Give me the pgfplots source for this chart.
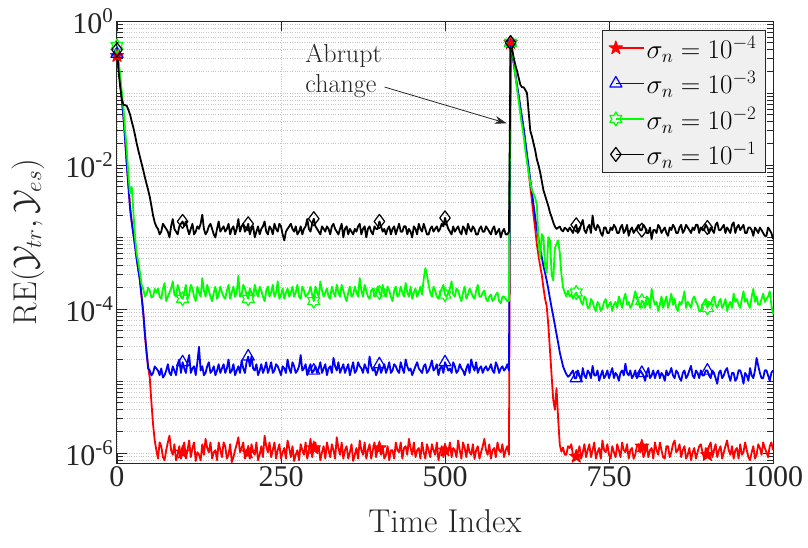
\RequirePackage{fix-cm}
\documentclass[border=0pt]{standalone}
\usepackage{fontspec}
\usepackage{pgfplots}
\usepackage{pgfplotstable}
\pgfplotsset{compat=1.18}
\usetikzlibrary{arrows.meta}
\newfontfamily\timesf{Liberation Serif}
\pgfdeclareplotmark{pentagram}{%
 \pgfpathmoveto{\pgfpointpolar{90}{\pgfplotmarksize}}%
 \pgfpathlineto{\pgfpointpolar{126}{0.382*\pgfplotmarksize}}%
 \pgfpathlineto{\pgfpointpolar{162}{\pgfplotmarksize}}%
 \pgfpathlineto{\pgfpointpolar{198}{0.382*\pgfplotmarksize}}%
 \pgfpathlineto{\pgfpointpolar{234}{\pgfplotmarksize}}%
 \pgfpathlineto{\pgfpointpolar{270}{0.382*\pgfplotmarksize}}%
 \pgfpathlineto{\pgfpointpolar{306}{\pgfplotmarksize}}%
 \pgfpathlineto{\pgfpointpolar{342}{0.382*\pgfplotmarksize}}%
 \pgfpathlineto{\pgfpointpolar{18}{\pgfplotmarksize}}%
 \pgfpathlineto{\pgfpointpolar{54}{0.382*\pgfplotmarksize}}%
 \pgfpathclose\pgfusepathqfillstroke}
\pgfdeclareplotmark{hexagram}{%
 \pgfpathmoveto{\pgfpointpolar{90}{\pgfplotmarksize}}%
 \pgfpathlineto{\pgfpointpolar{120}{0.577*\pgfplotmarksize}}%
 \pgfpathlineto{\pgfpointpolar{150}{\pgfplotmarksize}}%
 \pgfpathlineto{\pgfpointpolar{180}{0.577*\pgfplotmarksize}}%
 \pgfpathlineto{\pgfpointpolar{210}{\pgfplotmarksize}}%
 \pgfpathlineto{\pgfpointpolar{240}{0.577*\pgfplotmarksize}}%
 \pgfpathlineto{\pgfpointpolar{270}{\pgfplotmarksize}}%
 \pgfpathlineto{\pgfpointpolar{300}{0.577*\pgfplotmarksize}}%
 \pgfpathlineto{\pgfpointpolar{330}{\pgfplotmarksize}}%
 \pgfpathlineto{\pgfpointpolar{0}{0.577*\pgfplotmarksize}}%
 \pgfpathlineto{\pgfpointpolar{30}{\pgfplotmarksize}}%
 \pgfpathlineto{\pgfpointpolar{60}{0.577*\pgfplotmarksize}}%
 \pgfpathclose\pgfusepathqstroke}
\pgfplotstableread{
t r b g k
0 0.33 0.35 0.45 0.40
2.5 0.22 0.22 0.28 0.2
5 0.14 0.14 0.17 0.12
7.5 0.08 0.08 0.1 0.08
10 0.045 0.045 0.06 0.068
12.5 0.022 0.022 0.03 0.068
15 0.01 0.01 0.016 0.066
17.5 5e-3 5e-3 7e-3 0.058
20 2.5e-3 2.5e-3 4e-3 0.05
22.5 1.6e-3 1.6e-3 5e-3 0.04
25 1.1e-3 1.1e-3 2.2e-3 0.033
27.5 7.5e-4 7.5e-4 1e-3 0.026
30 5e-4 5e-4 6e-4 0.02
32.5 3.5e-4 3.5e-4 4.5e-4 0.016
35 2.5e-4 2.5e-4 3.2e-4 0.013
37.5 1.5e-4 1.5e-4 2.2e-4 0.0105
40 9e-5 9e-5 1.9e-4 0.0085
42.5 4.5e-5 4.6e-5 1.5e-4 0.0068
45 2.5e-5 2.6e-5 1.6e-4 0.0055
47.5 1.6e-5 1.5e-5 2.0e-4 0.0045
50 1.1e-5 1.4e-5 1.8e-4 0.0036
52.5 5e-6 1.2e-5 1.45e-4 0.0027
55 2.5e-6 1.3e-5 1.5e-4 0.002
57.5 1.5e-6 1.6e-5 1.9e-4 0.0016
60 1.1e-6 1.5e-5 1.7e-4 1.4e-3
62.5 0.84e-6 1.4e-5 1.93e-4 1.3e-3
65 1.41e-6 1.21e-5 1.49e-4 1.09e-3
67.5 1.25e-6 1.5e-5 1.39e-4 1.19e-3
70 0.88e-6 1.12e-5 1.93e-4 1.53e-3
72.5 0.8e-6 1.21e-5 2.3e-4 1.41e-3
75 1.1e-6 1.4e-5 1.29e-4 1.3e-3
77.5 1.41e-6 1.72e-5 1.49e-4 1.19e-3
80 1.75e-6 1.3e-5 1.7e-4 0.99e-3
82.5 1.1e-6 1.21e-5 1.93e-4 1.41e-3
85 0.95e-6 1.61e-5 2.43e-4 1.78e-3
87.5 1.33e-6 1.4e-5 1.59e-4 1.3e-3
90 0.8e-6 1.21e-5 1.49e-4 1.19e-3
92.5 0.95e-6 1.72e-5 2.17e-4 1.09e-3
95 1.25e-6 2.0e-5 1.81e-4 1.41e-3
97.5 0.84e-6 1.3e-5 1.49e-4 1.53e-3
100 1.03e-6 1.83e-5 1.39e-4 1.65e-3
102.5 1.41e-6 1.5e-5 1.7e-4 1.41e-3
105 0.84e-6 1.3e-5 2.17e-4 1.65e-3
107.5 1.1e-6 1.83e-5 1.39e-4 1.3e-3
110 1.5e-6 2.3e-5 1.59e-4 1.09e-3
112.5 0.88e-6 1.3e-5 2.17e-4 1.3e-3
115 1.18e-6 1.5e-5 1.93e-4 1.53e-3
117.5 1.41e-6 1.61e-5 1.49e-4 1.09e-3
120 0.78e-6 1.21e-5 1.29e-4 1.19e-3
122.5 1.03e-6 1.83e-5 2.05e-4 1.41e-3
125 0.95e-6 3.0e-5 1.7e-4 1.3e-3
127.5 0.8e-6 1.4e-5 1.49e-4 1.53e-3
130 1.33e-6 1.61e-5 2.7e-4 2.05e-3
132.5 0.95e-6 1.21e-5 1.81e-4 1.3e-3
135 1.58e-6 1.3e-5 1.49e-4 1.09e-3
137.5 1.18e-6 1.61e-5 2.17e-4 1.19e-3
140 1.03e-6 1.83e-5 1.81e-4 1.41e-3
142.5 1.41e-6 1.3e-5 1.49e-4 1.53e-3
145 0.84e-6 1.4e-5 1.29e-4 1.3e-3
147.5 1.03e-6 1.61e-5 1.7e-4 1.09e-3
150 1.1e-6 1.21e-5 2.05e-4 0.99e-3
152.5 0.8e-6 1.4e-5 1.39e-4 1.3e-3
155 1.41e-6 1.72e-5 1.59e-4 1.65e-3
157.5 1.1e-6 1.3e-5 2.05e-4 1.19e-3
160 0.88e-6 1.5e-5 1.7e-4 1.3e-3
162.5 1.41e-6 1.72e-5 1.49e-4 1.41e-3
165 1.25e-6 1.3e-5 1.39e-4 1.19e-3
167.5 0.84e-6 1.5e-5 1.81e-4 1.3e-3
170 0.95e-6 2.0e-5 2.17e-4 1.53e-3
172.5 1.33e-6 1.3e-5 1.39e-4 1.09e-3
175 0.75e-6 1.4e-5 1.7e-4 1.3e-3
177.5 0.88e-6 1.72e-5 2.05e-4 1.41e-3
180 1.1e-6 1.21e-5 1.49e-4 1.09e-3
182.5 1.33e-6 1.4e-5 1.7e-4 1.3e-3
185 1.66e-6 1.61e-5 2.9e-4 1.78e-3
187.5 1.03e-6 1.3e-5 1.49e-4 1.19e-3
190 1.18e-6 1.94e-5 1.59e-4 1.41e-3
192.5 1.41e-6 1.5e-5 2.17e-4 1.53e-3
195 0.84e-6 1.3e-5 1.93e-4 1.19e-3
197.5 1.1e-6 1.83e-5 1.59e-4 1.3e-3
200 1.03e-6 2.2e-5 1.39e-4 1.53e-3
202.5 0.84e-6 1.61e-5 1.93e-4 1.09e-3
205 1.33e-6 2.2e-5 1.7e-4 1.3e-3
207.5 1.03e-6 1.5e-5 1.49e-4 1.41e-3
210 0.95e-6 1.4e-5 2.17e-4 0.99e-3
212.5 1.41e-6 1.72e-5 1.7e-4 1.19e-3
215 0.8e-6 1.21e-5 1.49e-4 1.41e-3
217.5 0.95e-6 1.4e-5 2.05e-4 1.09e-3
220 1.25e-6 1.72e-5 1.81e-4 1.3e-3
222.5 0.88e-6 1.3e-5 1.49e-4 1.41e-3
225 1.75e-6 1.5e-5 1.29e-4 1.65e-3
227.5 1.25e-6 1.83e-5 1.81e-4 1.19e-3
230 1.03e-6 1.3e-5 2.05e-4 1.09e-3
232.5 1.41e-6 1.5e-5 1.49e-4 1.41e-3
235 0.88e-6 1.83e-5 1.7e-4 1.3e-3
237.5 1.1e-6 1.3e-5 2.17e-4 1.09e-3
240 1.41e-6 1.4e-5 1.49e-4 1.53e-3
242.5 0.84e-6 1.72e-5 1.7e-4 1.3e-3
245 1.1e-6 1.61e-5 2.43e-4 1.19e-3
247.5 1.33e-6 1.4e-5 1.39e-4 1.53e-3
250 0.84e-6 1.21e-5 1.59e-4 1.41e-3
252.5 1.03e-6 1.61e-5 1.93e-4 1.09e-3
255 1.18e-6 1.5e-5 1.39e-4 0.9e-3
257.5 0.84e-6 1.3e-5 1.7e-4 1.19e-3
260 1.5e-6 2.0e-5 1.93e-4 1.3e-3
262.5 1.18e-6 1.5e-5 1.49e-4 1.41e-3
265 0.88e-6 1.3e-5 1.7e-4 1.53e-3
267.5 1.25e-6 1.83e-5 2.05e-4 1.3e-3
270 0.78e-6 1.61e-5 1.49e-4 1.19e-3
272.5 0.95e-6 1.3e-5 1.7e-4 1.41e-3
275 1.1e-6 1.4e-5 2.17e-4 1.09e-3
277.5 0.8e-6 1.61e-5 1.49e-4 1.19e-3
280 1.33e-6 2.3e-5 1.39e-4 1.41e-3
282.5 1.1e-6 1.4e-5 2.05e-4 1.09e-3
285 0.95e-6 1.5e-5 1.81e-4 1.3e-3
287.5 1.41e-6 1.72e-5 1.49e-4 1.41e-3
290 0.84e-6 1.21e-5 1.59e-4 1.78e-3
292.5 1.1e-6 1.5e-5 1.7e-4 1.3e-3
295 1.58e-6 1.72e-5 2.05e-4 1.19e-3
297.5 0.88e-6 1.3e-5 1.59e-4 1.53e-3
300 1.18e-6 1.4e-5 1.29e-4 1.8e-3
302.5 1.41e-6 1.61e-5 2.05e-4 1.41e-3
305 1.03e-6 1.3e-5 1.7e-4 1.3e-3
307.5 1.25e-6 1.5e-5 1.49e-4 1.19e-3
310 0.8e-6 1.83e-5 2.43e-4 1.09e-3
312.5 1.03e-6 1.3e-5 1.81e-4 1.41e-3
315 1.25e-6 1.5e-5 1.49e-4 1.3e-3
317.5 0.84e-6 1.72e-5 1.7e-4 1.19e-3
320 1.41e-6 1.21e-5 1.93e-4 1.41e-3
322.5 1.1e-6 1.5e-5 1.49e-4 1.3e-3
325 0.88e-6 1.61e-5 1.39e-4 1.09e-3
327.5 1.33e-6 1.3e-5 2.05e-4 1.41e-3
330 1.1e-6 2.1e-5 1.7e-4 1.53e-3
332.5 0.84e-6 1.61e-5 1.49e-4 1.3e-3
335 1.66e-6 1.4e-5 2.17e-4 1.19e-3
337.5 1.18e-6 1.83e-5 1.7e-4 1.09e-3
340 0.95e-6 1.3e-5 1.49e-4 1.3e-3
342.5 1.41e-6 1.5e-5 2.17e-4 1.53e-3
345 0.84e-6 1.72e-5 1.81e-4 0.99e-3
347.5 1.1e-6 1.3e-5 1.49e-4 1.3e-3
350 1.25e-6 1.5e-5 1.29e-4 1.41e-3
352.5 0.84e-6 1.72e-5 1.7e-4 1.09e-3
355 1.03e-6 1.21e-5 2.05e-4 1.3e-3
357.5 1.33e-6 1.5e-5 1.49e-4 1.19e-3
360 0.78e-6 1.83e-5 1.59e-4 1.09e-3
362.5 0.95e-6 1.3e-5 2.05e-4 1.3e-3
365 1.18e-6 1.4e-5 1.7e-4 1.19e-3
367.5 0.84e-6 1.83e-5 1.49e-4 1.41e-3
370 1.5e-6 1.61e-5 2.7e-4 1.53e-3
372.5 1.1e-6 1.5e-5 1.81e-4 1.09e-3
375 0.95e-6 1.3e-5 1.49e-4 1.3e-3
377.5 1.41e-6 1.72e-5 2.17e-4 1.41e-3
380 0.84e-6 1.5e-5 1.81e-4 0.99e-3
382.5 1.1e-6 1.3e-5 1.49e-4 1.3e-3
385 1.33e-6 2.2e-5 1.39e-4 1.41e-3
387.5 0.84e-6 1.61e-5 1.81e-4 1.19e-3
390 1.1e-6 1.4e-5 1.93e-4 1.09e-3
392.5 1.41e-6 1.5e-5 1.49e-4 1.41e-3
395 0.88e-6 1.21e-5 1.59e-4 1.3e-3
397.5 1.18e-6 1.4e-5 2.05e-4 1.3e-3
400 1.18e-6 1.72e-5 1.7e-4 1.65e-3
402.5 0.95e-6 1.3e-5 1.49e-4 1.41e-3
405 1.25e-6 1.5e-5 2.17e-4 1.19e-3
407.5 0.84e-6 1.72e-5 1.7e-4 1.3e-3
410 0.95e-6 1.3e-5 1.49e-4 1.09e-3
412.5 1.25e-6 1.5e-5 2.05e-4 1.3e-3
415 0.8e-6 1.83e-5 1.81e-4 1.41e-3
417.5 1.1e-6 1.3e-5 1.49e-4 1.09e-3
420 1.1e-6 1.4e-5 1.29e-4 1.3e-3
422.5 0.84e-6 1.72e-5 1.81e-4 1.41e-3
425 1.41e-6 1.61e-5 2.05e-4 1.09e-3
427.5 1.1e-6 1.4e-5 1.49e-4 1.3e-3
430 1.03e-6 1.3e-5 1.59e-4 1.53e-3
432.5 1.41e-6 1.83e-5 2.05e-4 1.19e-3
435 0.84e-6 1.5e-5 1.7e-4 1.19e-3
437.5 1.18e-6 1.3e-5 1.49e-4 1.41e-3
440 1.25e-6 2.0e-5 2.3e-4 1.41e-3
442.5 0.95e-6 1.61e-5 1.7e-4 1.09e-3
445 1.58e-6 1.4e-5 1.49e-4 1.3e-3
447.5 1.18e-6 1.5e-5 2.05e-4 1.19e-3
450 0.95e-6 1.21e-5 1.39e-4 0.99e-3
452.5 1.41e-6 1.4e-5 1.7e-4 1.41e-3
455 0.88e-6 1.61e-5 1.93e-4 1.3e-3
457.5 1.1e-6 1.83e-5 1.49e-4 1.09e-3
460 1.18e-6 1.5e-5 1.7e-4 1.53e-3
462.5 0.84e-6 1.4e-5 2.05e-4 1.3e-3
465 1.41e-6 1.3e-5 1.59e-4 1.19e-3
467.5 1.03e-6 1.61e-5 2.6e-4 1.53e-3
470 0.84e-6 1.72e-5 3.7e-4 1.3e-3
472.5 1.33e-6 1.3e-5 3.0e-4 1.09e-3
475 1.1e-6 1.4e-5 2.17e-4 1.09e-3
477.5 0.88e-6 1.61e-5 1.7e-4 1.3e-3
480 1.33e-6 1.94e-5 1.49e-4 1.41e-3
482.5 1.1e-6 1.4e-5 2.05e-4 1.19e-3
485 0.95e-6 1.5e-5 1.81e-4 1.3e-3
487.5 1.41e-6 1.72e-5 1.49e-4 1.41e-3
490 0.8e-6 1.21e-5 1.39e-4 1.19e-3
492.5 1.03e-6 1.5e-5 1.7e-4 1.3e-3
495 1.25e-6 1.61e-5 1.93e-4 1.53e-3
497.5 0.88e-6 1.3e-5 2.17e-4 1.41e-3
500 1.1e-6 1.83e-5 1.59e-4 1.85e-3
502.5 1.18e-6 1.61e-5 1.49e-4 1.53e-3
505 1.03e-6 1.4e-5 1.7e-4 1.3e-3
507.5 1.41e-6 1.5e-5 1.93e-4 1.19e-3
510 0.88e-6 1.3e-5 2.43e-4 1.09e-3
512.5 1.18e-6 1.83e-5 1.59e-4 1.41e-3
515 1.1e-6 1.61e-5 1.49e-4 1.19e-3
517.5 0.88e-6 1.3e-5 1.93e-4 1.3e-3
520 1.5e-6 1.4e-5 1.81e-4 1.41e-3
522.5 1.1e-6 1.72e-5 1.49e-4 1.19e-3
525 0.84e-6 1.5e-5 1.29e-4 1.09e-3
527.5 1.41e-6 1.4e-5 1.7e-4 1.41e-3
530 1.18e-6 1.21e-5 2.05e-4 1.3e-3
532.5 0.88e-6 1.5e-5 1.39e-4 1.09e-3
535 1.33e-6 1.72e-5 1.59e-4 1.53e-3
537.5 1.03e-6 1.3e-5 1.93e-4 1.3e-3
540 0.95e-6 2.0e-5 1.7e-4 1.19e-3
542.5 1.33e-6 1.61e-5 1.49e-4 1.41e-3
545 0.83e-6 1.4e-5 1.39e-4 1.3e-3
547.5 1.1e-6 1.83e-5 1.81e-4 1.09e-3
550 1.25e-6 1.3e-5 2.17e-4 1.09e-3
552.5 0.84e-6 1.5e-5 1.49e-4 1.3e-3
555 1.03e-6 1.61e-5 1.49e-4 1.41e-3
557.5 1.25e-6 1.3e-5 1.7e-4 1.19e-3
560 1.58e-6 1.5e-5 1.81e-4 1.19e-3
562.5 1.1e-6 1.61e-5 1.39e-4 1.41e-3
565 0.95e-6 1.4e-5 1.29e-4 1.3e-3
567.5 1.33e-6 1.5e-5 1.49e-4 1.19e-3
570 0.84e-6 1.72e-5 1.59e-4 1.09e-3
572.5 1.1e-6 1.4e-5 1.29e-4 1.3e-3
575 1.18e-6 1.3e-5 1.39e-4 1.41e-3
577.5 0.88e-6 1.83e-5 1.59e-4 1.09e-3
580 1.41e-6 1.61e-5 1.7e-4 1.19e-3
582.5 1.1e-6 1.3e-5 1.29e-4 1.3e-3
585 1.03e-6 1.5e-5 1.2e-4 0.99e-3
587.5 1.33e-6 1.61e-5 1.49e-4 1.19e-3
590 0.88e-6 1.4e-5 1.49e-4 1.3e-3
592.5 1.1e-6 1.5e-5 1.39e-4 1.09e-3
595 1.25e-6 1.72e-5 1.29e-4 1.09e-3
597.5 0.95e-6 1.4e-5 1.29e-4 1.19e-3
600 0.5 0.5 0.5 0.5
602.5 0.36 0.36 0.38 0.4
605 0.25 0.25 0.27 0.3
607.5 0.17 0.18 0.17 0.24
610 0.12 0.125 0.11 0.2
612.5 0.085 0.09 0.075 0.16
615 0.06 0.063 0.05 0.13
617.5 0.042 0.045 0.035 0.12
620 0.03 0.032 0.025 0.12
622.5 0.02 0.021 0.016 0.11
625 0.013 0.014 0.011 0.1
627.5 8e-3 9.5e-3 8e-3 0.055
630 5e-3 6.3e-3 5.6e-3 0.03
632.5 3.2e-3 4.2e-3 4.5e-3 0.025
635 2e-3 2.8e-3 4e-3 0.02
637.5 1.3e-3 1.9e-3 3.5e-3 0.016
640 8e-4 1.3e-3 2.8e-3 0.012
642.5 5.5e-4 9.5e-4 9e-4 0.01
645 4e-4 7e-4 5e-4 8e-3
647.5 3e-4 5.3e-4 1.1e-3 6e-3
650 2e-4 4e-4 1e-3 4.5e-3
652.5 1.4e-4 3.2e-4 4e-4 3.8e-3
655 1.1e-4 2.5e-4 3.2e-4 3.2e-3
657.5 6e-5 1.9e-4 1e-3 2.7e-3
660 2.7e-5 1.4e-4 9e-4 2.2e-3
662.5 1.2e-5 1.05e-4 3e-4 1.9e-3
665 5.5e-6 8e-5 2.5e-4 1.6e-3
667.5 4e-6 6e-5 7e-4 1.4e-3
670 8e-6 4.5e-5 8e-4 1.3e-3
672.5 3e-6 3.4e-5 9e-4 1.35e-3
675 1.3e-6 2.5e-5 6e-4 1.4e-3
677.5 1.05e-6 2e-5 3e-4 1.25e-3
680 1.2e-6 1.6e-5 2e-4 1.2e-3
682.5 0.95e-6 1.4e-5 1.7e-4 1.35e-3
685 0.95e-6 1.25e-5 1.5e-4 1.3e-3
687.5 1.25e-6 1.15e-5 1.8e-4 1.2e-3
690 1.18e-6 1.2e-5 1.5e-4 1.36e-3
692.5 1.33e-6 1.3e-5 1.6e-4 1.25e-3
695 0.95e-6 1.41e-5 1.4e-4 1.14e-3
697.5 0.8e-6 1.1e-5 1.55e-4 1.36e-3
700 0.9e-6 1.1e-5 1.7e-4 1.48e-3
702.5 1.03e-6 1.41e-5 1.45e-4 1.14e-3
705 1.25e-6 1.2e-5 1.5e-4 1.25e-3
707.5 0.84e-6 1.01e-5 1.26e-4 1.48e-3
710 1.03e-6 1.52e-5 1.15e-4 1.73e-3
712.5 1.33e-6 1.2e-5 1.5e-4 1.25e-3
715 0.88e-6 1.1e-5 1.38e-4 1.14e-3
717.5 1.1e-6 1.41e-5 1.04e-4 1.36e-3
720 1.33e-6 1.3e-5 1.04e-4 1.48e-3
722.5 0.88e-6 1.1e-5 1.38e-4 1.14e-3
725 1.1e-6 1.63e-5 1.26e-4 2.0e-3
727.5 1.41e-6 1.2e-5 1.04e-4 1.36e-3
730 0.84e-6 1.2e-5 0.94e-4 1.25e-3
732.5 1.03e-6 1.41e-5 1.26e-4 1.48e-3
735 1.18e-6 1.01e-5 1.15e-4 1.36e-3
737.5 0.84e-6 1.2e-5 0.94e-4 1.14e-3
740 1.5e-6 1.41e-5 1.04e-4 1.04e-3
742.5 1.1e-6 1.1e-5 1.26e-4 1.36e-3
745 1.03e-6 1.2e-5 1.38e-4 1.36e-3
747.5 1.33e-6 1.41e-5 1.04e-4 1.14e-3
750 0.95e-6 1.1e-5 1.15e-4 1.14e-3
752.5 0.84e-6 1.3e-5 1.26e-4 1.36e-3
755 1.25e-6 1.52e-5 0.94e-4 1.25e-3
757.5 1.03e-6 1.1e-5 1.15e-4 1.48e-3
760 0.88e-6 1.3e-5 1.26e-4 1.36e-3
762.5 1.33e-6 1.2e-5 1.04e-4 1.14e-3
765 1.1e-6 1.01e-5 1.5e-4 1.14e-3
767.5 0.88e-6 1.3e-5 1.26e-4 1.36e-3
770 1.41e-6 1.41e-5 1.04e-4 1.48e-3
772.5 1.1e-6 1.2e-5 1.38e-4 1.14e-3
775 1.03e-6 1.75e-5 1.64e-4 1.25e-3
777.5 1.33e-6 1.3e-5 1.15e-4 1.48e-3
780 0.84e-6 1.2e-5 1.26e-4 1.04e-3
782.5 1.1e-6 1.41e-5 1.04e-4 1.25e-3
785 1.18e-6 1.1e-5 1.15e-4 1.36e-3
787.5 0.84e-6 1.2e-5 1.38e-4 1.14e-3
790 0.95e-6 1.41e-5 1.77e-4 1.25e-3
792.5 1.25e-6 1.1e-5 1.5e-4 1.36e-3
795 1.33e-6 1.2e-5 1.26e-4 1.48e-3
797.5 1.03e-6 1.41e-5 1.04e-4 1.25e-3
800 1.25e-6 1.3e-5 1.3e-4 1.25e-3
802.5 0.88e-6 1.2e-5 1.26e-4 1.48e-3
805 1.03e-6 1.01e-5 1.04e-4 1.36e-3
807.5 1.33e-6 1.3e-5 1.5e-4 1.14e-3
810 0.88e-6 1.52e-5 1.38e-4 1.14e-3
812.5 1.1e-6 1.1e-5 1.04e-4 1.36e-3
815 1.18e-6 1.2e-5 1.91e-4 0.94e-3
817.5 0.84e-6 1.41e-5 1.38e-4 1.25e-3
820 1.41e-6 1.1e-5 1.15e-4 1.25e-3
822.5 1.1e-6 1.3e-5 1.26e-4 1.14e-3
825 0.95e-6 1.41e-5 0.94e-4 1.48e-3
827.5 1.41e-6 1.1e-5 1.15e-4 1.36e-3
830 1.1e-6 1.3e-5 1.5e-4 1.14e-3
832.5 0.88e-6 1.2e-5 1.04e-4 1.25e-3
835 0.84e-6 1.01e-5 1.26e-4 1.36e-3
837.5 1.25e-6 1.41e-5 1.5e-4 1.14e-3
840 1.25e-6 1.2e-5 1.04e-4 1.04e-3
842.5 0.88e-6 1.3e-5 1.26e-4 1.36e-3
845 1.03e-6 1.52e-5 1.64e-4 1.25e-3
847.5 1.33e-6 1.2e-5 1.15e-4 1.48e-3
850 1.5e-6 1.1e-5 1.38e-4 1.36e-3
852.5 1.03e-6 1.41e-5 1.04e-4 1.14e-3
855 1.1e-6 1.3e-5 0.94e-4 1.14e-3
857.5 1.33e-6 1.1e-5 1.26e-4 1.36e-3
860 0.88e-6 1.01e-5 1.15e-4 1.48e-3
862.5 1.1e-6 1.3e-5 1.38e-4 1.14e-3
865 1.25e-6 1.41e-5 1.77e-4 1.25e-3
867.5 0.84e-6 1.1e-5 1.04e-4 1.48e-3
870 0.95e-6 1.2e-5 1.26e-4 1.36e-3
872.5 1.18e-6 1.41e-5 1.15e-4 1.25e-3
875 0.8e-6 1.63e-5 1.04e-4 1.14e-3
877.5 1.03e-6 1.2e-5 1.38e-4 1.36e-3
880 1.18e-6 1.1e-5 1.5e-4 1.25e-3
882.5 0.84e-6 1.41e-5 1.26e-4 1.48e-3
885 1.03e-6 1.3e-5 1.15e-4 1.48e-3
887.5 1.25e-6 1.1e-5 0.94e-4 1.14e-3
890 1.33e-6 1.41e-5 0.94e-4 1.36e-3
892.5 1.03e-6 1.2e-5 1.15e-4 1.25e-3
895 0.84e-6 1.2e-5 1.26e-4 1.25e-3
897.5 1.18e-6 1.41e-5 1.38e-4 1.48e-3
900 0.95e-6 1.4e-5 1.04e-4 1.36e-3
902.5 1.25e-6 1.2e-5 1.26e-4 1.14e-3
905 1.41e-6 1.1e-5 1.15e-4 1.36e-3
907.5 0.88e-6 1.41e-5 1.38e-4 1.25e-3
910 1.1e-6 1.3e-5 1.5e-4 1.14e-3
912.5 1.33e-6 1.1e-5 1.15e-4 1.48e-3
915 0.88e-6 0.92e-5 1.04e-4 1.6e-3
917.5 1.1e-6 1.3e-5 1.26e-4 1.25e-3
920 1.25e-6 1.41e-5 1.38e-4 1.25e-3
922.5 0.84e-6 1.1e-5 1.04e-4 1.36e-3
925 1.03e-6 1.2e-5 1.15e-4 1.48e-3
927.5 1.25e-6 1.41e-5 1.38e-4 1.14e-3
930 1.5e-6 1.52e-5 0.94e-4 1.36e-3
932.5 1.1e-6 1.2e-5 1.15e-4 1.25e-3
935 0.95e-6 1.01e-5 1.26e-4 1.14e-3
937.5 1.25e-6 1.3e-5 1.04e-4 1.48e-3
940 0.84e-6 1.3e-5 1.64e-4 1.6e-3
942.5 1.1e-6 1.01e-5 1.26e-4 1.14e-3
945 1.18e-6 1.1e-5 1.38e-4 1.36e-3
947.5 0.84e-6 1.41e-5 1.15e-4 1.48e-3
950 1.33e-6 1.41e-5 1.04e-4 1.25e-3
952.5 0.95e-6 1.2e-5 1.38e-4 1.36e-3
955 1.03e-6 0.92e-5 1.77e-4 1.48e-3
957.5 1.41e-6 1.3e-5 1.26e-4 1.14e-3
960 1.1e-6 1.2e-5 1.38e-4 1.14e-3
962.5 0.88e-6 1.01e-5 1.15e-4 1.36e-3
965 0.8e-6 1.52e-5 1.04e-4 1.36e-3
967.5 1.03e-6 1.2e-5 1.5e-4 1.25e-3
970 1.25e-6 1.1e-5 1.91e-4 1.04e-3
972.5 0.84e-6 1.41e-5 1.26e-4 1.36e-3
975 0.95e-6 2.1e-5 1.5e-4 1.25e-3
977.5 1.33e-6 1.63e-5 1.15e-4 1.14e-3
980 1.18e-6 1.3e-5 1.15e-4 1.36e-3
982.5 0.95e-6 1.1e-5 1.38e-4 1.25e-3
985 1.41e-6 1.1e-5 1.64e-4 1.14e-3
987.5 1.18e-6 1.41e-5 1.26e-4 1.04e-3
990 1.03e-6 1.41e-5 1.38e-4 1.04e-3
992.5 0.88e-6 1.2e-5 1.5e-4 1.36e-3
995 1.25e-6 1.01e-5 1.77e-4 1.25e-3
997.5 1.41e-6 1.3e-5 1.15e-4 1.14e-3
1000 1.1e-6 1.41e-5 0.85e-4 0.94e-3
}\datatab
\begin{document}
\begin{tikzpicture}
\begin{axis}[
 scale only axis, width=656pt, height=442pt,
 xmin=0, xmax=1000, ymode=log, ymin=7.3e-7, ymax=1,
 clip=false,
 xtick={0,250,500,750,1000}, xticklabels={0,250,500,750,1000},
 ytick={1e-6,1e-4,1e-2,1},
 yticklabels={10\textsuperscript{-6},10\textsuperscript{-4},10\textsuperscript{-2},10\textsuperscript{0}},
 minor ytick={7e-7,8e-7,9e-7,2e-6,3e-6,4e-6,5e-6,6e-6,7e-6,8e-6,9e-6,1e-5,2e-5,3e-5,4e-5,5e-5,6e-5,7e-5,8e-5,9e-5,2e-4,3e-4,4e-4,5e-4,6e-4,7e-4,8e-4,9e-4,1e-3,2e-3,3e-3,4e-3,5e-3,6e-3,7e-3,8e-3,9e-3,2e-2,3e-2,4e-2,5e-2,6e-2,7e-2,8e-2,9e-2,1e-1,2e-1,3e-1,4e-1,5e-1,6e-1,7e-1,8e-1,9e-1},
 tick align=inside, major tick length=10pt, minor tick length=6pt,
 tick style={black!85, line width=0.8pt},
 axis line style={black!85, line width=1pt},
 ticklabel style={font=\timesf\fontsize{30}{32}\selectfont, text=black!85},
 xmajorgrids, ymajorgrids, yminorgrids,
 major grid style={dotted, black!22, line width=0.8pt},
 minor grid style={dotted, black!22, line width=0.8pt},
 xlabel={Time Index},
 ylabel={$\mathrm{RE}(\mathcal{Y}_{tr},\mathcal{Y}_{es})$},
 label style={font=\fontsize{33}{36}\selectfont, text=black!85},
 xlabel style={at={(axis description cs:0.5,-0.131)}, anchor=center},
 ylabel style={at={(axis description cs:-0.1357,0.5)}, anchor=center},
 legend style={at={(axis description cs:0.989,0.98)}, anchor=north east,
   fill=black!6, draw=black!85, line width=0.8pt,
   font=\fontsize{27}{29}\selectfont, inner xsep=7pt, inner ysep=4pt, row sep=8pt},
 legend cell align=left,
 legend image code/.code={\draw[mark repeat=2,mark phase=2,#1] plot coordinates {(0pt,0pt) (14pt,0pt) (28pt,0pt)};},
 every axis plot/.append style={line join=round},
]
\addplot[red, line width=1.8pt, mark=pentagram, mark size=7pt,
  mark indices={1,41,81,121,161,201,241,281,321,361},
  mark options={fill=red, line width=1pt}] table[x=t,y=r]{\datatab};
\addlegendentry{$\sigma_n=10^{-4}$}
\addplot[blue, line width=1.8pt, mark=triangle, mark size=7pt,
  mark indices={1,41,81,121,161,201,241,281,321,361},
  mark options={line width=1.2pt}] table[x=t,y=b]{\datatab};
\addlegendentry{$\sigma_n=10^{-3}$}
\addplot[green, line width=1.8pt, mark=hexagram, mark size=7pt,
  mark indices={1,41,81,121,161,201,241,281,321,361},
  mark options={line width=1.2pt}] table[x=t,y=g]{\datatab};
\addlegendentry{$\sigma_n=10^{-2}$}
\addplot[black, line width=1.8pt, mark=diamond, mark size=7pt,
  mark indices={1,41,81,121,161,201,241,281,321,361},
  mark options={line width=1.2pt}] table[x=t,y=k]{\datatab};
\addlegendentry{$\sigma_n=10^{-1}$}
\node[anchor=north west, align=left, inner sep=0pt, font=\fontsize{26}{30}\selectfont, text=black!85] at (axis cs:287,0.48) {Abrupt\\change};
\draw[-{Stealth[length=12pt,width=8pt]}, line width=0.8pt, black!85] (axis cs:408,0.121) -- (axis cs:594,0.038);
\end{axis}
\pgfresetboundingbox
\useasboundingbox (current axis.south west) ++(-117pt,-84pt) rectangle ++(808pt,547pt);
\end{tikzpicture}
\end{document}
